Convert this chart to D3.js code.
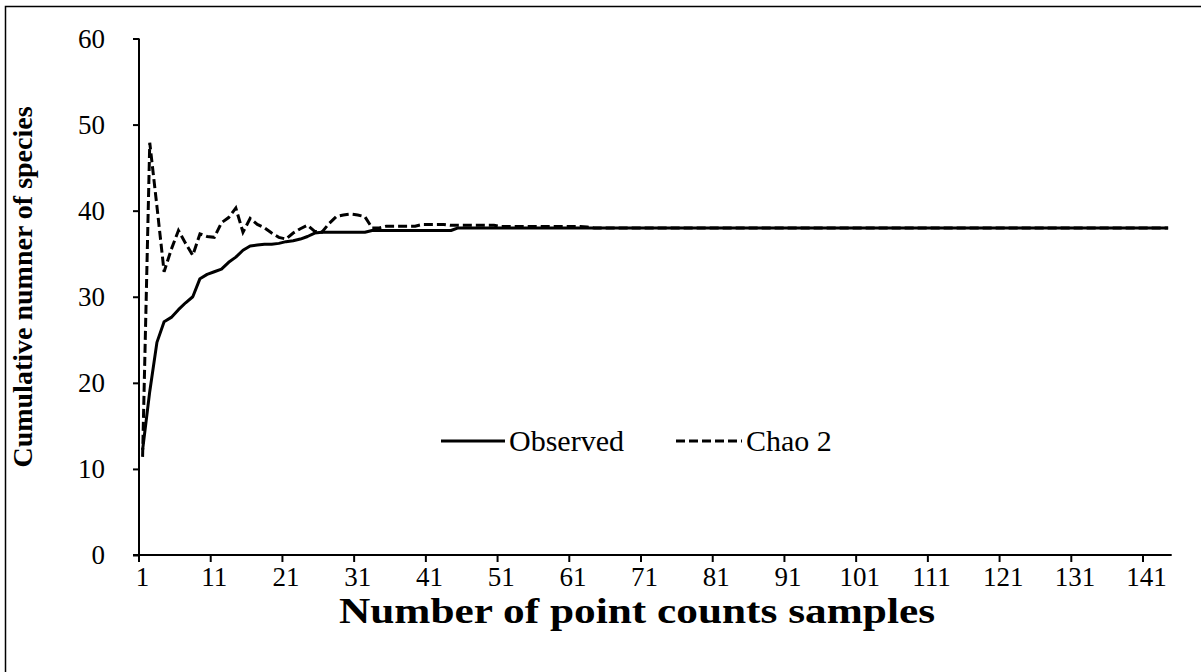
<!DOCTYPE html>
<html>
<head>
<meta charset="utf-8">
<script src="https://cdn.jsdelivr.net/npm/d3@7"></script>
<style>
  html, body { margin: 0; padding: 0; background: #fff; }
  svg { display: block; }
  text { font-family: "Liberation Serif", "Times New Roman", serif; fill: #000; }
</style>
</head>
<body>
<svg id="chart" width="1201" height="672"></svg>
<script>
// ---- data ----
const samples = d3.range(1, 145); // 1..144
const observedHead = [12.2, 19.0, 24.7, 27.1, 27.6, 28.5, 29.3, 30.0, 32.1, 32.6,
  32.9, 33.2, 34.0, 34.6, 35.4, 35.9, 36.0, 36.1, 36.1, 36.2,
  36.4, 36.5, 36.7, 37.0, 37.4, 37.5, 37.5, 37.5, 37.5, 37.5,
  37.5, 37.5, 37.7, 37.7, 37.7, 37.7, 37.7, 37.7, 37.7, 37.7,
  37.7, 37.7, 37.7, 37.7];
const observedTailValue = 38;
const chaoHead = [11.4, 47.9, 40.5, 32.9, 35.5, 37.7, 36.2, 34.8, 37.3, 37.0,
  36.9, 38.6, 39.2, 40.3, 37.5, 39.1, 38.4, 38.0, 37.4, 36.9,
  36.7, 37.4, 37.9, 38.3, 37.6, 37.5, 38.5, 39.3, 39.5, 39.6,
  39.5, 39.3, 38.0, 38.0, 38.2, 38.2, 38.2, 38.2, 38.2, 38.4,
  38.4, 38.4, 38.4, 38.3, 38.3, 38.3, 38.3, 38.3, 38.3, 38.3,
  38.15, 38.15, 38.15, 38.15, 38.15, 38.15, 38.15, 38.15, 38.15, 38.15,
  38.15, 38.15, 38.1];
const chaoTailValue = 38;
const xTickLabels = d3.range(1, 145, 10); // 1, 11, ..., 141
const yTicks = [0, 10, 20, 30, 40, 50, 60];
const seriesNames = ["Observed", "Chao 2"];
const xTitle = "Number of point counts samples";
const yTitle = "Cumulative numner of species";

(function () {
const observed = samples.map((s, i) => i < observedHead.length ? observedHead[i] : observedTailValue);
const chao = samples.map((s, i) => i < chaoHead.length ? chaoHead[i] : chaoTailValue);

// ---- layout ----
const svg = d3.select("#chart");
const pLeft = 139, pRight = 1171.7, pTop = 38.5, pBottom = 555;

svg.append("rect").attr("x", 5.5).attr("y", 6.5).attr("width", 1200).attr("height", 670)
  .attr("fill", "none").attr("stroke", "#000").attr("stroke-width", 1.5);

const x = d3.scaleBand().domain(samples).range([pLeft, pRight]).paddingInner(0).paddingOuter(0);
const bw = x.bandwidth();
const cx = d => x(d) + bw / 2;
const y = d3.scaleLinear().domain([0, 60]).range([pBottom, pTop]);

// Y axis
const yAxis = d3.axisLeft(y).tickValues(yTicks).tickSize(6).tickPadding(28);
const gy = svg.append("g").attr("transform", `translate(${pLeft},0)`).call(yAxis);
gy.select(".domain").attr("stroke", "#000").attr("stroke-width", 2).attr("d", `M0,${pTop}H0V${pBottom}`);
gy.selectAll(".tick line").attr("stroke", "#000").attr("stroke-width", 2);
gy.selectAll(".tick text").style("font-family", "Liberation Serif").style("font-size", "27px").attr("fill", "#000");

// X axis (ticks at category boundaries, labels centred on categories)
const xAxis = d3.axisBottom(x).tickValues(xTickLabels).tickSize(7).tickPadding(5);
const gx = svg.append("g").attr("transform", `translate(0,${pBottom})`).call(xAxis);
gx.select(".domain").attr("stroke", "#000").attr("stroke-width", 2).attr("d", `M${pLeft - 6},0H${pRight}`);
gx.selectAll(".tick line").attr("stroke", "#000").attr("stroke-width", 2).attr("x1", -bw / 2).attr("x2", -bw / 2);
gx.selectAll(".tick text").style("font-family", "Liberation Serif").style("font-size", "27px").attr("fill", "#000");

// lines
const line = d3.line().x((d, i) => cx(samples[i])).y(d => y(d));
svg.append("path").datum(observed).attr("d", line).attr("fill", "none")
  .attr("stroke", "#000").attr("stroke-width", 3).attr("stroke-linejoin", "round");
svg.append("path").datum(chao).attr("d", line).attr("fill", "none")
  .attr("stroke", "#000").attr("stroke-width", 3).attr("stroke-dasharray", "9,4");

// titles
svg.append("text").attr("x", 637).attr("y", 623).attr("text-anchor", "middle")
  .attr("textLength", 596).attr("lengthAdjust", "spacingAndGlyphs")
  .style("font-size", "36px").style("font-weight", "bold").text(xTitle);
svg.append("text").attr("transform", `translate(32,287) rotate(-90)`)
  .attr("text-anchor", "middle").style("font-size", "28px").style("font-weight", "bold").text(yTitle);

// legend
const lg = svg.append("g");
lg.append("line").attr("x1", 441).attr("x2", 505).attr("y1", 441).attr("y2", 441)
  .attr("stroke", "#000").attr("stroke-width", 3);
lg.append("text").attr("x", 509).attr("y", 451).style("font-size", "30px").text(seriesNames[0]);
lg.append("line").attr("x1", 676).attr("x2", 742).attr("y1", 441).attr("y2", 441)
  .attr("stroke", "#000").attr("stroke-width", 3).attr("stroke-dasharray", "9,4");
lg.append("text").attr("x", 746).attr("y", 451).style("font-size", "30px").text(seriesNames[1]);
})();
</script>
</body>
</html>
